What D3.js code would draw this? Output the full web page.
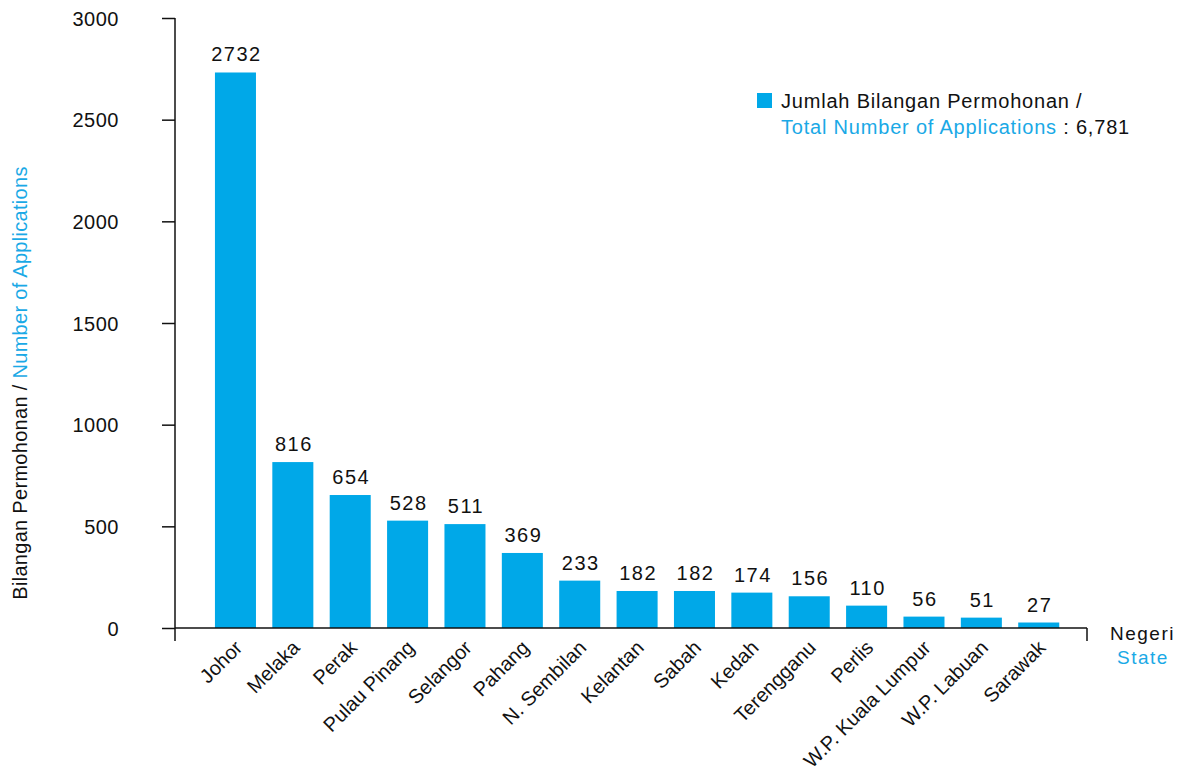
<!DOCTYPE html>
<html>
<head>
<meta charset="utf-8">
<script src="https://cdn.jsdelivr.net/npm/d3@7"></script>
<style>
  html, body { margin: 0; padding: 0; background: #fff; }
  svg { display: block; font-family: "Liberation Sans", Arial, sans-serif; }
</style>
</head>
<body>
<svg id="chart" width="1183" height="772"></svg>
<script>
// Applications by state
const states = ["Johor", "Melaka", "Perak", "Pulau Pinang", "Selangor", "Pahang",
  "N. Sembilan", "Kelantan", "Sabah", "Kedah", "Terengganu", "Perlis",
  "W.P. Kuala Lumpur", "W.P. Labuan", "Sarawak"];
const applications = [2732, 816, 654, 528, 511, 369, 233, 182, 182, 174, 156, 110, 56, 51, 27];
const yTicks = [0, 500, 1000, 1500, 2000, 2500, 3000];
const totalLabel = "6,781";

const BLUE = "#00a8e8";
const TEXT_BLUE = "#1aa9e6";
const INK = "#111";

const svg = d3.select("#chart");

const x = d3.scaleBand()
  .domain(states)
  .range([175, 1087])
  .paddingInner(0.285)
  .paddingOuter(0.59)
  .align(0.59);

const y = d3.scaleLinear().domain([0, 3000]).range([628, 18]);

// Bars
svg.append("g").selectAll("rect")
  .data(states)
  .join("rect")
  .attr("x", d => x(d))
  .attr("width", x.bandwidth())
  .attr("y", (d, i) => y(applications[i]))
  .attr("height", (d, i) => y(0) - y(applications[i]))
  .attr("fill", BLUE);

// Value labels
svg.append("g").selectAll("text")
  .data(states)
  .join("text")
  .attr("x", d => x(d) + x.bandwidth() / 2 + 1)
  .attr("y", (d, i) => y(applications[i]) - 11)
  .attr("text-anchor", "middle")
  .attr("font-size", 20)
  .attr("letter-spacing", 1.5)
  .attr("fill", INK)
  .text((d, i) => applications[i]);

// Y axis
const yAxis = d3.axisLeft(y).tickValues(yTicks).tickSize(13).tickFormat(d => d);
const gy = svg.append("g").attr("transform", "translate(175,0)").call(yAxis);
gy.select(".domain").remove();
gy.selectAll(".tick line").attr("stroke", INK).attr("stroke-width", 1.5);
gy.selectAll(".tick text")
  .attr("x", -56)
  .attr("dy", "0.35em")
  .attr("font-size", 20)
  .attr("letter-spacing", 0.5)
  .attr("fill", INK)
  .attr("font-family", "'Liberation Sans', Arial, sans-serif");

// Axis lines
svg.append("line").attr("x1", 175).attr("x2", 175).attr("y1", 18).attr("y2", 641)
  .attr("stroke", INK).attr("stroke-width", 1.5);
svg.append("line").attr("x1", 175).attr("x2", 1087).attr("y1", y(0)).attr("y2", y(0))
  .attr("stroke", INK).attr("stroke-width", 1.5);
svg.append("line").attr("x1", 1087).attr("x2", 1087).attr("y1", y(0)).attr("y2", 641)
  .attr("stroke", INK).attr("stroke-width", 1.5);

// Category labels
svg.append("g").selectAll("text")
  .data(states)
  .join("text")
  .attr("transform", d => `translate(${x(d) + x.bandwidth() / 2 + 8},${y(0) + 21}) rotate(-45)`)
  .attr("text-anchor", "end")
  .attr("font-size", 20)
  .attr("fill", INK)
  .text(d => d);

// Y axis title
const yTitle = svg.append("text")
  .attr("transform", "translate(27,383) rotate(-90)")
  .attr("text-anchor", "middle")
  .attr("font-size", 20)
  .attr("letter-spacing", 0.3);
yTitle.append("tspan").attr("fill", INK).text("Bilangan Permohonan / ");
yTitle.append("tspan").attr("fill", TEXT_BLUE).text("Number of Applications");

// X axis title
svg.append("text").attr("x", 1110).attr("y", 640)
  .attr("font-size", 19).attr("letter-spacing", 1.5).attr("fill", INK).text("Negeri");
svg.append("text").attr("x", 1117).attr("y", 664)
  .attr("font-size", 19).attr("letter-spacing", 1.5).attr("fill", TEXT_BLUE).text("State");

// Legend
const legend = svg.append("g");
legend.append("rect").attr("x", 757).attr("y", 93).attr("width", 15).attr("height", 15).attr("fill", BLUE);
legend.append("text").attr("x", 781).attr("y", 108).attr("font-size", 20)
  .attr("letter-spacing", 0.8).attr("fill", INK)
  .text("Jumlah Bilangan Permohonan /");
const l2 = legend.append("text").attr("x", 781).attr("y", 134).attr("font-size", 20)
  .attr("letter-spacing", 0.8);
l2.append("tspan").attr("fill", TEXT_BLUE).text("Total Number of Applications");
l2.append("tspan").attr("fill", INK).text(" : " + totalLabel);
</script>
</body>
</html>
